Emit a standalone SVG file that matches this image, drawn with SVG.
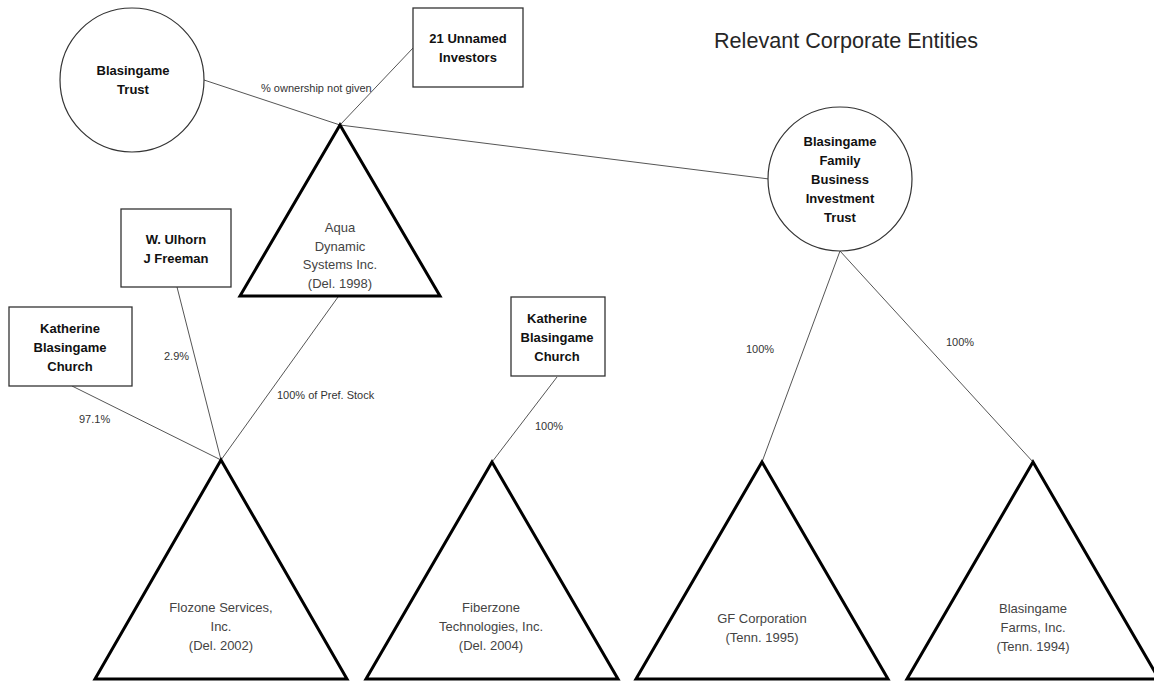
<svg xmlns="http://www.w3.org/2000/svg" width="1154" height="681" viewBox="0 0 1154 681">
<style>
.bg{fill:#fff}
.box{fill:#fff;stroke:#333;stroke-width:1.3}
.circ{fill:#fff;stroke:#333;stroke-width:1.2}
.tri{fill:#fff;stroke:#000;stroke-width:3;stroke-linejoin:miter}
.edge{stroke:#555;stroke-width:1;fill:none}
.bold{font-family:"Liberation Sans",Arial,sans-serif;font-size:13px;font-weight:bold;fill:#111;text-anchor:middle}
.reg{font-family:"Liberation Sans",Arial,sans-serif;font-size:13px;fill:#444;text-anchor:middle}
.lbl{font-family:"Liberation Sans",Arial,sans-serif;font-size:11px;fill:#333}
.title{font-family:"Liberation Sans",Arial,sans-serif;font-size:22px;fill:#262626}
</style>
<rect class="bg" x="0" y="0" width="1154" height="681"/>
<text class="title" x="714" y="48" textLength="264" lengthAdjust="spacingAndGlyphs">Relevant Corporate Entities</text>
<g id="connectors">
<line class="edge" x1="204" y1="80" x2="340" y2="125"/>
<line class="edge" x1="340" y1="125" x2="769" y2="179"/>
<line class="edge" x1="413" y1="48" x2="340" y2="125"/>
<line class="edge" x1="177" y1="287" x2="221" y2="460"/>
<line class="edge" x1="72" y1="386" x2="221" y2="460"/>
<line class="edge" x1="338" y1="297" x2="221" y2="460"/>
<line class="edge" x1="557" y1="377" x2="492" y2="462"/>
<line class="edge" x1="840" y1="251" x2="762" y2="462"/>
<line class="edge" x1="840" y1="251" x2="1033" y2="462"/>
<text class="lbl" x="261" y="92">% ownership not given</text>
<text class="lbl" x="164" y="360">2.9%</text>
<text class="lbl" x="79" y="423">97.1%</text>
<text class="lbl" x="277" y="399">100% of Pref. Stock</text>
<text class="lbl" x="535" y="430">100%</text>
<text class="lbl" x="746" y="353">100%</text>
<text class="lbl" x="946" y="346">100%</text>
</g>
<g id="blasingame-trust">
<circle class="circ" cx="132" cy="80" r="72"/>
<text class="bold" x="133" y="75">Blasingame</text>
<text class="bold" x="133" y="94">Trust</text>
</g>
<g id="unnamed-investors">
<rect class="box" x="413" y="8" width="110" height="79"/>
<text class="bold" x="468" y="43">21 Unnamed</text>
<text class="bold" x="468" y="62">Investors</text>
</g>
<g id="bfbit">
<circle class="circ" cx="840" cy="179" r="72"/>
<text class="bold" x="840" y="146">Blasingame</text>
<text class="bold" x="840" y="165">Family</text>
<text class="bold" x="840" y="184">Business</text>
<text class="bold" x="840" y="203">Investment</text>
<text class="bold" x="840" y="222">Trust</text>
</g>
<g id="aqua">
<polygon class="tri" points="340,125 440,296 240,296"/>
<text class="reg" x="340" y="232">Aqua</text>
<text class="reg" x="340" y="251">Dynamic</text>
<text class="reg" x="340" y="269">Systems Inc.</text>
<text class="reg" x="340" y="288">(Del. 1998)</text>
</g>
<g id="ulhorn">
<rect class="box" x="121" y="209" width="110" height="78"/>
<text class="bold" x="176" y="244">W. Ulhorn</text>
<text class="bold" x="176" y="263">J Freeman</text>
</g>
<g id="kbc-left">
<rect class="box" x="9" y="307" width="123" height="79"/>
<text class="bold" x="70" y="333">Katherine</text>
<text class="bold" x="70" y="352">Blasingame</text>
<text class="bold" x="70" y="371">Church</text>
</g>
<g id="kbc-middle">
<rect class="box" x="511" y="297" width="94" height="79"/>
<text class="bold" x="557" y="323">Katherine</text>
<text class="bold" x="557" y="342">Blasingame</text>
<text class="bold" x="557" y="361">Church</text>
</g>
<g id="flozone">
<polygon class="tri" points="221,460 347,679 95,679"/>
<text class="reg" x="221" y="612">Flozone Services,</text>
<text class="reg" x="221" y="631">Inc.</text>
<text class="reg" x="221" y="650">(Del. 2002)</text>
</g>
<g id="fiberzone">
<polygon class="tri" points="492,462 618,679 366,679"/>
<text class="reg" x="491" y="612">Fiberzone</text>
<text class="reg" x="491" y="631">Technologies, Inc.</text>
<text class="reg" x="491" y="650">(Del. 2004)</text>
</g>
<g id="gf-corporation">
<polygon class="tri" points="762,462 888,679 636,679"/>
<text class="reg" x="762" y="623">GF Corporation</text>
<text class="reg" x="762" y="642">(Tenn. 1995)</text>
</g>
<g id="blasingame-farms">
<polygon class="tri" points="1033,462 1159,679 907,679"/>
<text class="reg" x="1033" y="613">Blasingame</text>
<text class="reg" x="1033" y="632">Farms, Inc.</text>
<text class="reg" x="1033" y="651">(Tenn. 1994)</text>
</g>
</svg>
